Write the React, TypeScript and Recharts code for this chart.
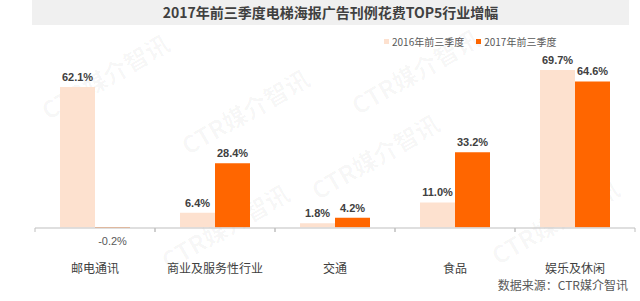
import React from "react";
import { BarChart, Bar, XAxis, YAxis, LabelList } from "recharts";

const categories = ["邮电通讯", "商业及服务性行业", "交通", "食品", "娱乐及休闲"];
const values2016 = [62.1, 6.4, 1.8, 11.0, 69.7];
const values2017 = [-0.2, 28.4, 4.2, 33.2, 64.6];
const seriesNames = ["2016年前三季度", "2017年前三季度"];

const TITLE = "2017年前三季度电梯海报广告刊例花费TOP5行业增幅";
const SOURCE = "数据来源：CTR媒介智讯";

const COLOR_2016 = "#fde1cf";
const COLOR_2017 = "#ff6600";
const TEXT = "#404040";
const FONT = "'Noto Sans CJK SC', 'Liberation Sans', sans-serif";

const data = categories.map((name, i) => ({
  name,
  v2016: values2016[i],
  v2017: values2017[i],
}));

const CHART_W = 640;
const CHART_H = 301;
const MARGIN = { top: 58, right: 5, left: 35, bottom: 33 };
const BAND = (CHART_W - MARGIN.left - MARGIN.right) / categories.length;

// value label: above positive bars, below negative ones
const ValueLabel = (props: any) => {
  const { x, y, width, height, value } = props;
  const neg = value < 0;
  const cx = x + width / 2;
  const ty = neg ? y + Math.abs(height) + 17 : y - 6;
  return (
    <text
      x={cx}
      y={ty}
      textAnchor="middle"
      fontSize={11}
      fontWeight={neg ? 400 : 700}
      fill={neg ? "#595959" : TEXT}
      fontFamily="'Liberation Sans', Arial, sans-serif"
    >
      {value.toFixed(1)}%
    </text>
  );
};

const CategoryTick = ({ x, y, payload }: any) => (
  <g>
    <line x1={x - BAND / 2} x2={x - BAND / 2} y1={y} y2={y + 4} stroke="#bfbfbf" />
    <line x1={x + BAND / 2} x2={x + BAND / 2} y1={y} y2={y + 4} stroke="#bfbfbf" />
    <text x={x} y={y + 45} textAnchor="middle" fontSize={12} fill={TEXT} fontFamily={FONT}>
      {payload.value}
    </text>
  </g>
);

const watermarks = [
  { x: 110, y: 85 },
  { x: 250, y: 120 },
  { x: 420, y: 80 },
  { x: 380, y: 165 },
  { x: 230, y: 235 },
  { x: 560, y: 230 },
];

export default function App() {
  return (
    <div
      style={{
        position: "absolute",
        left: 0,
        top: 0,
        width: CHART_W,
        height: CHART_H,
        background: "#fff",
        fontFamily: FONT,
        overflow: "hidden",
      }}
    >
      <div
        style={{
          position: "absolute",
          left: 32,
          top: 0,
          width: 597,
          height: 25,
          background: "#f0f0f0",
          color: TEXT,
          fontWeight: 700,
          fontSize: 14,
          lineHeight: "25px",
          textAlign: "center",
        }}
      >
        {TITLE}
      </div>

      <div
        style={{
          position: "absolute",
          top: 34,
          left: 384,
          fontSize: 10,
          color: "#595959",
          display: "flex",
          gap: 12,
          whiteSpace: "nowrap",
        }}
      >
        {seriesNames.map((s, i) => (
          <span key={s} style={{ display: "flex", alignItems: "center" }}>
            <span
              style={{
                display: "inline-block",
                width: 5,
                height: 5,
                marginRight: 3,
                background: i === 0 ? COLOR_2016 : COLOR_2017,
              }}
            />
            {s}
          </span>
        ))}
      </div>

      <svg
        width={CHART_W}
        height={CHART_H}
        style={{ position: "absolute", left: 0, top: 0, pointerEvents: "none" }}
      >
        {watermarks.map((w, i) => (
          <text
            key={i}
            x={w.x}
            y={w.y}
            textAnchor="middle"
            fontSize={24}
            fontWeight={700}
            fill="#000"
            fillOpacity={0.035}
            fontFamily={FONT}
            transform={`rotate(-30 ${w.x} ${w.y})`}
          >
            CTR媒介智讯
          </text>
        ))}
      </svg>

      <div style={{ position: "absolute", left: 0, top: 0 }}>
        <BarChart
          width={CHART_W}
          height={CHART_H}
          data={data}
          margin={MARGIN}
          barCategoryGap={25}
          barGap={0}
        >
          <XAxis
            dataKey="name"
            height={40}
            axisLine={{ stroke: "#bfbfbf" }}
            tickLine={false}
            tickSize={0}
            tickMargin={0}
            tick={<CategoryTick />}
            interval={0}
          />
          <YAxis hide type="number" domain={[-0.3, 75]} allowDataOverflow />
          <Bar dataKey="v2016" name={seriesNames[0]} fill={COLOR_2016} isAnimationActive={false}>
            <LabelList dataKey="v2016" content={<ValueLabel />} />
          </Bar>
          <Bar dataKey="v2017" name={seriesNames[1]} fill={COLOR_2017} isAnimationActive={false}>
            <LabelList dataKey="v2017" content={<ValueLabel />} />
          </Bar>
        </BarChart>
      </div>

      <div
        style={{
          position: "absolute",
          right: 12,
          top: 276,
          fontSize: 12,
          color: "#595959",
          whiteSpace: "nowrap",
        }}
      >
        {SOURCE}
      </div>
    </div>
  );
}
